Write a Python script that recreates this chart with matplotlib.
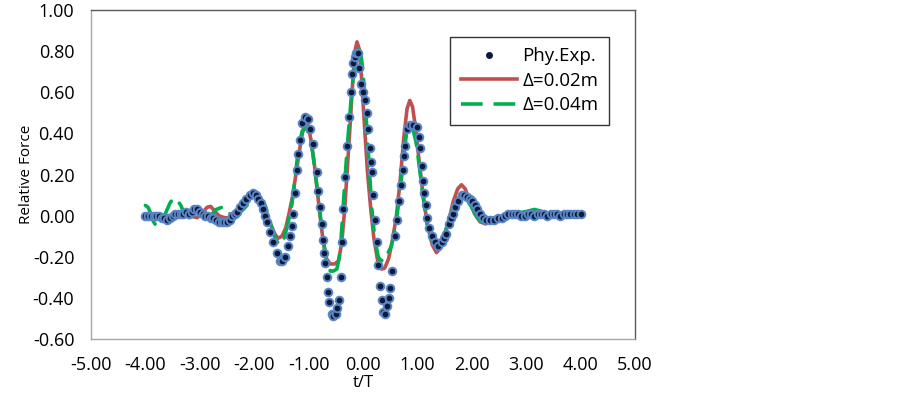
import matplotlib
matplotlib.use("Agg")
import matplotlib.pyplot as plt
from matplotlib.lines import Line2D

plt.rcParams["font.family"] = ["Open Sans", "DejaVu Sans"]

# measured relative force (Phy.Exp.)
t_exp = [-4.00, -3.95, -3.90, -3.85, -3.80, -3.75, -3.70, -3.65, -3.60, -3.55,
         -3.50, -3.45, -3.40, -3.35, -3.30, -3.25, -3.20, -3.15, -3.10, -3.05,
         -3.00, -2.95, -2.90, -2.85, -2.80, -2.75, -2.70, -2.65, -2.60, -2.55,
         -2.50, -2.45, -2.40, -2.36, -2.32, -2.26, -2.21, -2.15, -2.08, -2.02,
         -1.97, -1.93, -1.88, -1.84, -1.80, -1.76, -1.71, -1.65, -1.58, -1.53,
         -1.48, -1.43, -1.38, -1.34, -1.31, -1.29, -1.25, -1.21, -1.19, -1.16,
         -1.12, -1.07, -1.01, -0.97, -0.92, -0.85, -0.83, -0.79, -0.75, -0.74,
         -0.72, -0.70, -0.66, -0.64, -0.62, -0.57, -0.55, -0.50, -0.48, -0.44,
         -0.40, -0.39, -0.37, -0.33, -0.29, -0.26, -0.22, -0.20, -0.18, -0.15,
         -0.12, -0.09, -0.07, -0.04, 0.00, 0.04, 0.07, 0.09, 0.12, 0.14,
         0.17, 0.18, 0.22, 0.26, 0.28, 0.31, 0.35, 0.37, 0.40, 0.44,
         0.48, 0.50, 0.53, 0.59, 0.62, 0.66, 0.70, 0.74, 0.75, 0.77,
         0.81, 0.86, 0.92, 0.99, 1.03, 1.05, 1.08, 1.10, 1.12, 1.16,
         1.18, 1.21, 1.27, 1.32, 1.38, 1.45, 1.49, 1.53, 1.58, 1.62,
         1.65, 1.70, 1.75, 1.82, 1.86, 1.91, 1.96, 2.00, 2.05, 2.09,
         2.15, 2.21, 2.27, 2.33, 2.40, 2.48, 2.55, 2.61, 2.67, 2.73,
         2.79, 2.85, 2.91, 2.97, 3.03, 3.09, 3.15, 3.21, 3.27, 3.33,
         3.39, 3.45, 3.51, 3.57, 3.63, 3.69, 3.75, 3.81, 3.87, 3.93, 4.00]
f_exp = [0.00, 0.00, 0.00, 0.00, 0.00, 0.00, -0.01, -0.01, -0.02, -0.01,
         0.00, 0.01, 0.01, 0.01, 0.01, 0.02, 0.01, 0.02, 0.03, 0.03,
         0.02, 0.01, 0.00, 0.00, -0.01, -0.01, -0.02, -0.03, -0.03, -0.03,
         -0.03, -0.02, 0.00, 0.01, 0.02, 0.04, 0.06, 0.08, 0.10, 0.11,
         0.10, 0.08, 0.06, 0.03, 0.00, -0.03, -0.08, -0.13, -0.18, -0.22,
         -0.22, -0.20, -0.15, -0.10, -0.05, 0.01, 0.11, 0.22, 0.30, 0.37,
         0.45, 0.48, 0.47, 0.42, 0.35, 0.21, 0.12, 0.04, -0.04, -0.12,
         -0.18, -0.23, -0.30, -0.37, -0.42, -0.48, -0.49, -0.48, -0.45, -0.41,
         -0.30, -0.13, 0.03, 0.19, 0.34, 0.48, 0.60, 0.69, 0.74, 0.77,
         0.79, 0.79, 0.72, 0.64, 0.60, 0.56, 0.50, 0.42, 0.33, 0.26,
         0.21, 0.10, -0.02, -0.13, -0.24, -0.34, -0.41, -0.47, -0.48, -0.44,
         -0.40, -0.35, -0.27, -0.10, -0.02, 0.07, 0.15, 0.22, 0.29, 0.34,
         0.42, 0.44, 0.44, 0.43, 0.38, 0.33, 0.24, 0.17, 0.11, 0.05,
         -0.01, -0.06, -0.10, -0.13, -0.15, -0.13, -0.11, -0.09, -0.04, -0.01,
         0.01, 0.04, 0.07, 0.10, 0.10, 0.09, 0.08, 0.07, 0.05, 0.03,
         0.01, -0.01, -0.02, -0.02, -0.02, -0.01, -0.01, 0.00, 0.01, 0.01,
         0.01, 0.01, 0.00, 0.00, 0.01, 0.01, 0.00, 0.01, 0.01, 0.01,
         0.00, 0.01, 0.01, 0.01, 0.00, 0.01, 0.01, 0.01, 0.01, 0.01, 0.01]

# numerical model, delta = 0.02 m
t_d02 = [-4.00, -3.50, -3.20, -3.05, -2.95, -2.87, -2.80, -2.72, -2.65, -2.55,
         -2.45, -2.35, -2.25, -2.15, -2.05, -1.98, -1.90, -1.80, -1.70, -1.62,
         -1.56, -1.49, -1.42, -1.36, -1.29, -1.20, -1.13, -1.07, -1.01, -0.95,
         -0.89, -0.84, -0.79, -0.73, -0.67, -0.60, -0.52, -0.45, -0.39, -0.34,
         -0.29, -0.23, -0.18, -0.14, -0.11, -0.07, -0.03, 0.02, 0.08, 0.14,
         0.20, 0.27, 0.34, 0.40, 0.47, 0.54, 0.61, 0.68, 0.75, 0.81,
         0.86, 0.91, 0.97, 1.03, 1.10, 1.18, 1.27, 1.35, 1.42, 1.50,
         1.58, 1.66, 1.74, 1.81, 1.88, 1.96, 2.05, 2.15, 2.25, 2.40,
         2.60, 3.00, 3.30]
f_d02 = [0.00, 0.00, 0.00, -0.01, 0.01, 0.04, 0.045, 0.02, 0.00, -0.01,
         -0.01, 0.01, 0.04, 0.08, 0.10, 0.10, 0.07, 0.02, -0.04, -0.09,
         -0.11, -0.10, -0.06, 0.01, 0.10, 0.26, 0.38, 0.45, 0.44, 0.36,
         0.24, 0.12, 0.00, -0.13, -0.21, -0.235, -0.235, -0.22, -0.13, 0.02,
         0.22, 0.47, 0.69, 0.81, 0.845, 0.81, 0.68, 0.47, 0.22, 0.04,
         -0.11, -0.22, -0.26, -0.255, -0.21, -0.12, -0.01, 0.16, 0.38, 0.52,
         0.56, 0.53, 0.42, 0.27, 0.11, -0.04, -0.14, -0.18, -0.16, -0.10,
         -0.02, 0.07, 0.13, 0.15, 0.13, 0.07, 0.01, -0.03, -0.04, -0.02,
         0.00, 0.01, 0.01]

# numerical model, delta = 0.04 m
t_d04 = [-4.00, -3.95, -3.90, -3.85, -3.80, -3.75, -3.70, -3.65, -3.60, -3.55,
         -3.50, -3.45, -3.40, -3.35, -3.30, -3.20, -3.10, -3.00, -2.90, -2.80,
         -2.70, -2.60, -2.50, -2.40, -2.30, -2.20, -2.10, -2.00, -1.90, -1.80,
         -1.70, -1.60, -1.53, -1.45, -1.38, -1.31, -1.25, -1.19, -1.12, -1.05,
         -0.98, -0.92, -0.86, -0.80, -0.76, -0.70, -0.65, -0.60, -0.55, -0.48,
         -0.42, -0.37, -0.32, -0.27, -0.22, -0.17, -0.12, -0.08, -0.04, 0.00,
         0.04, 0.10, 0.16, 0.22, 0.28, 0.33, 0.40, 0.46, 0.52, 0.59,
         0.64, 0.68, 0.74, 0.80, 0.86, 0.92, 0.98, 1.04, 1.10, 1.18,
         1.27, 1.35, 1.42, 1.50, 1.60, 1.70, 1.80, 1.90, 2.00, 2.10,
         2.20, 2.28, 2.40, 2.60, 2.80, 3.00, 3.15, 3.30]
f_d04 = [0.05, 0.04, 0.01, -0.03, -0.05, -0.05, -0.03, 0.00, 0.03, 0.06,
         0.08, 0.08, 0.07, 0.05, 0.02, -0.01, 0.00, 0.00, -0.01, 0.00,
         0.03, 0.04, 0.02, 0.00, 0.01, 0.03, 0.06, 0.09, 0.09, 0.05,
         -0.04, -0.12, -0.14, -0.11, -0.04, 0.05, 0.18, 0.32, 0.41, 0.43,
         0.39, 0.30, 0.17, 0.04, -0.06, -0.17, -0.24, -0.27, -0.27, -0.26,
         -0.18, 0.02, 0.22, 0.40, 0.56, 0.70, 0.78, 0.81, 0.79, 0.70,
         0.55, 0.30, 0.04, -0.12, -0.20, -0.22, -0.21, -0.18, -0.15, -0.07,
         0.03, 0.11, 0.27, 0.40, 0.44, 0.42, 0.35, 0.23, 0.10, -0.04,
         -0.12, -0.15, -0.14, -0.09, 0.00, 0.07, 0.10, 0.08, 0.04, -0.01,
         -0.04, -0.04, -0.02, 0.00, 0.01, 0.02, 0.03, 0.02]

x_ticks = [-5, -4, -3, -2, -1, 0, 1, 2, 3, 4, 5]
x_tick_labels = ["-5.00", "-4.00", "-3.00", "-2.00", "-1.00", "0.00",
                 "1.00", "2.00", "3.00", "4.00", "5.00"]
y_ticks = [-0.6, -0.4, -0.2, 0.0, 0.2, 0.4, 0.6, 0.8, 1.0]
y_tick_labels = ["-0.60", "-0.40", "-0.20", "0.00", "0.20", "0.40",
                 "0.60", "0.80", "1.00"]

RED = "#C0504D"
GREEN = "#00B050"
DOT = "#0B1A3A"
DOT_EDGE = "#5A86C6"

fig = plt.figure(figsize=(9.02, 3.95), dpi=100)
ax = fig.add_axes([91 / 902, 1 - 339 / 395, 544 / 902, 329 / 395])

ax.plot(t_d02, f_d02, color=RED, lw=2.6, solid_capstyle="round",
        solid_joinstyle="round", zorder=2)
ax.plot(t_d04, f_d04, color=GREEN, lw=2.6, dashes=(6, 3),
        dash_capstyle="round", zorder=3)
ax.plot(t_exp, f_exp, ls="none", marker="o", ms=5.5, mfc=DOT, mec=DOT_EDGE,
        mew=1.4, zorder=4)

ax.set_xlim(-5, 5)
ax.set_ylim(-0.6, 1.0)
ax.set_xticks(x_ticks)
ax.set_xticklabels(x_tick_labels)
ax.set_yticks(y_ticks)
ax.set_yticklabels(y_tick_labels)
ax.tick_params(axis="both", length=0, labelsize=13, colors="black")
ax.tick_params(axis="x", pad=12)
ax.tick_params(axis="y", pad=12)

for side in ("left", "bottom"):
    ax.spines[side].set_color("#A6A6A6")
    ax.spines[side].set_linewidth(1.0)
for side in ("top", "right"):
    ax.spines[side].set_color("#595959")
    ax.spines[side].set_linewidth(1.0)

ax.set_xlabel("t/T", fontsize=12, labelpad=1)
ax.set_ylabel("Relative Force", fontsize=11, labelpad=-1)

handles = [
    Line2D([], [], ls="none", marker="o", ms=4, color=DOT),
    Line2D([], [], color=RED, lw=2.6),
    Line2D([], [], color=GREEN, lw=2.6, dashes=(6, 3)),
]
labels = ["Phy.Exp.", "\u0394=0.02m", "\u0394=0.04m"]
leg = ax.legend(handles, labels, loc="upper right",
                bbox_to_anchor=(0.952, 0.918), borderaxespad=0,
                fontsize=13.5, frameon=True, fancybox=False, handlelength=3.0,
                handletextpad=0.3, labelspacing=0.35, borderpad=0.55)
leg.get_frame().set_edgecolor("black")
leg.get_frame().set_linewidth(1.0)

fig.savefig("out.png", dpi=100)
